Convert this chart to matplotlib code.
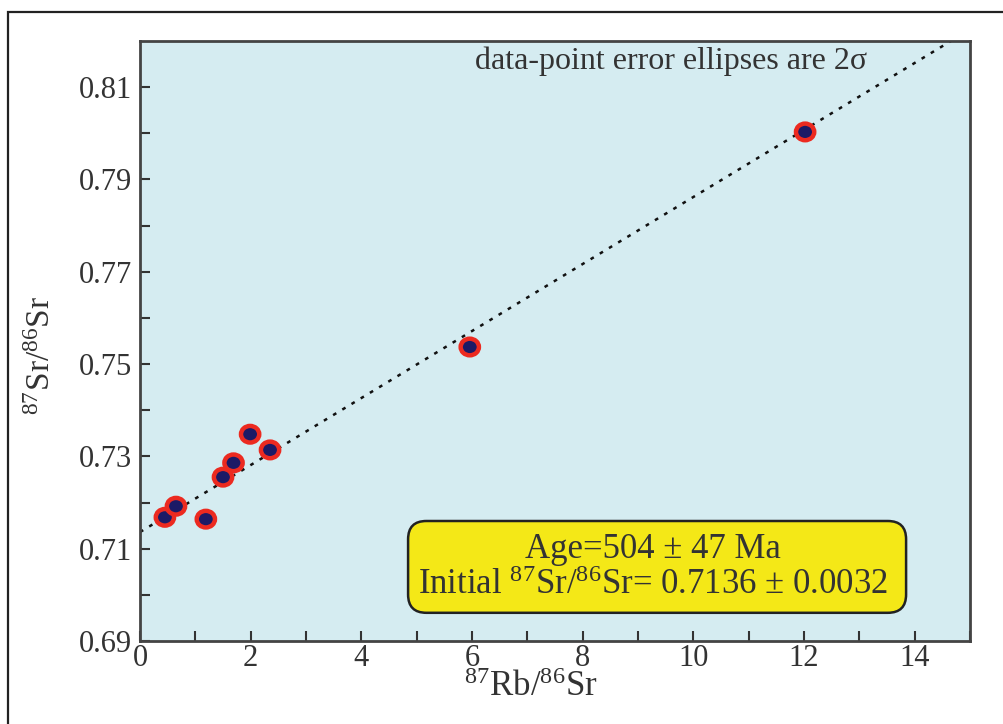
import matplotlib
matplotlib.use("Agg")
import matplotlib.pyplot as plt
import numpy as np
from matplotlib.patches import Ellipse, FancyBboxPatch, Rectangle

# ---- data ----
rb_sr = [0.45, 0.65, 1.19, 1.50, 1.69, 1.99, 2.35, 5.96, 12.02]
sr_sr = [0.7168, 0.7192, 0.7164, 0.7255, 0.7286, 0.7348, 0.7314, 0.7537, 0.8003]
iso_intercept = 0.7136
iso_slope = 0.00726
x_major = [0, 2, 4, 6, 8, 10, 12, 14]
x_minor = [1, 3, 5, 7, 9, 11, 13, 15]
y_major = [0.69, 0.71, 0.73, 0.75, 0.77, 0.79, 0.81]
y_minor = [0.70, 0.72, 0.74, 0.76, 0.78, 0.80]
age_text = "Age=504 \u00b1 47 Ma"
init_text = "Initial $^{87}$Sr/$^{86}$Sr= 0.7136 \u00b1 0.0032"
note_text = "data-point error ellipses are 2\u03c3"

plt.rcParams['font.family'] = ['Liberation Serif', 'DejaVu Serif']
plt.rcParams['mathtext.fontset'] = 'custom'
plt.rcParams['mathtext.rm'] = 'Liberation Serif'
plt.rcParams['mathtext.it'] = 'Liberation Serif:italic'

W, H = 1004, 724
fig = plt.figure(figsize=(W / 100, H / 100), dpi=100)
fig.patch.set_facecolor('white')

# outer frame (only top and left visible)
fig.patches.append(Rectangle((8 / W, -0.2), 1.3, 1.2 - 12 / H, transform=fig.transFigure,
                             fill=False, edgecolor='#222222', linewidth=1.6))

ax = fig.add_axes([140 / W, (H - 641) / H, 830 / W, 600 / H])
ax.set_facecolor('#d5ecf1')
ax.set_xlim(0, 15)
ax.set_ylim(0.69, 0.82)

# isochron
xl = np.array([0, 15])
ax.plot(xl, iso_intercept + iso_slope * xl, color='#111111', lw=1.8,
        linestyle=(0, (1.5, 2.8)), zorder=2)

# error ellipses
for xv, yv in zip(rb_sr, sr_sr):
    ax.add_patch(Ellipse((xv, yv), 0.33, 0.0036, facecolor='#1c1a66',
                         edgecolor='#ec2a20', linewidth=3.2, zorder=3))

ax.set_xticks(x_major)
ax.set_xticks(x_minor, minor=True)
ax.set_yticks(y_major)
ax.set_yticks(y_minor, minor=True)
ax.set_yticklabels([f"{v:.2f}" for v in y_major])
ax.set_xticklabels([str(v) for v in x_major])
ax.tick_params(axis='both', which='both', direction='in', length=7, width=1.5,
               color='#333333', labelsize=22, labelcolor='#333333')
ax.tick_params(axis='y', pad=6)
ax.tick_params(axis='x', pad=2)
for sp in ax.spines.values():
    sp.set_color('#444444')
    sp.set_linewidth(2.0)

fig.text(531 / W, 1 - 687 / H, r"$^{87}$Rb/$^{86}$Sr", ha='center', va='center',
         fontsize=25, color='#333333')
fig.text(42 / W, 1 - 355 / H, r"$^{87}$Sr/$^{86}$Sr", ha='center', va='center',
         fontsize=24, color='#333333', rotation=90)

ax.text(0.64, 0.966, note_text, transform=ax.transAxes, ha='center', va='center',
        fontsize=23, color='#333333')

box = FancyBboxPatch((0.323, 0.047), 0.600, 0.153,
                     boxstyle="round,pad=0,rounding_size=0.022",
                     mutation_aspect=830 / 600,
                     transform=ax.transAxes, facecolor='#f4e817',
                     edgecolor='#222222', linewidth=1.8, zorder=4)
ax.add_patch(box)
ax.text(0.618, 0.152, age_text, transform=ax.transAxes, ha='center', va='center',
        fontsize=25, color='#333333', zorder=5)
ax.text(0.618, 0.092, init_text, transform=ax.transAxes, ha='center', va='center',
        fontsize=25, color='#333333', zorder=5)

fig.savefig("out.png", dpi=100)
